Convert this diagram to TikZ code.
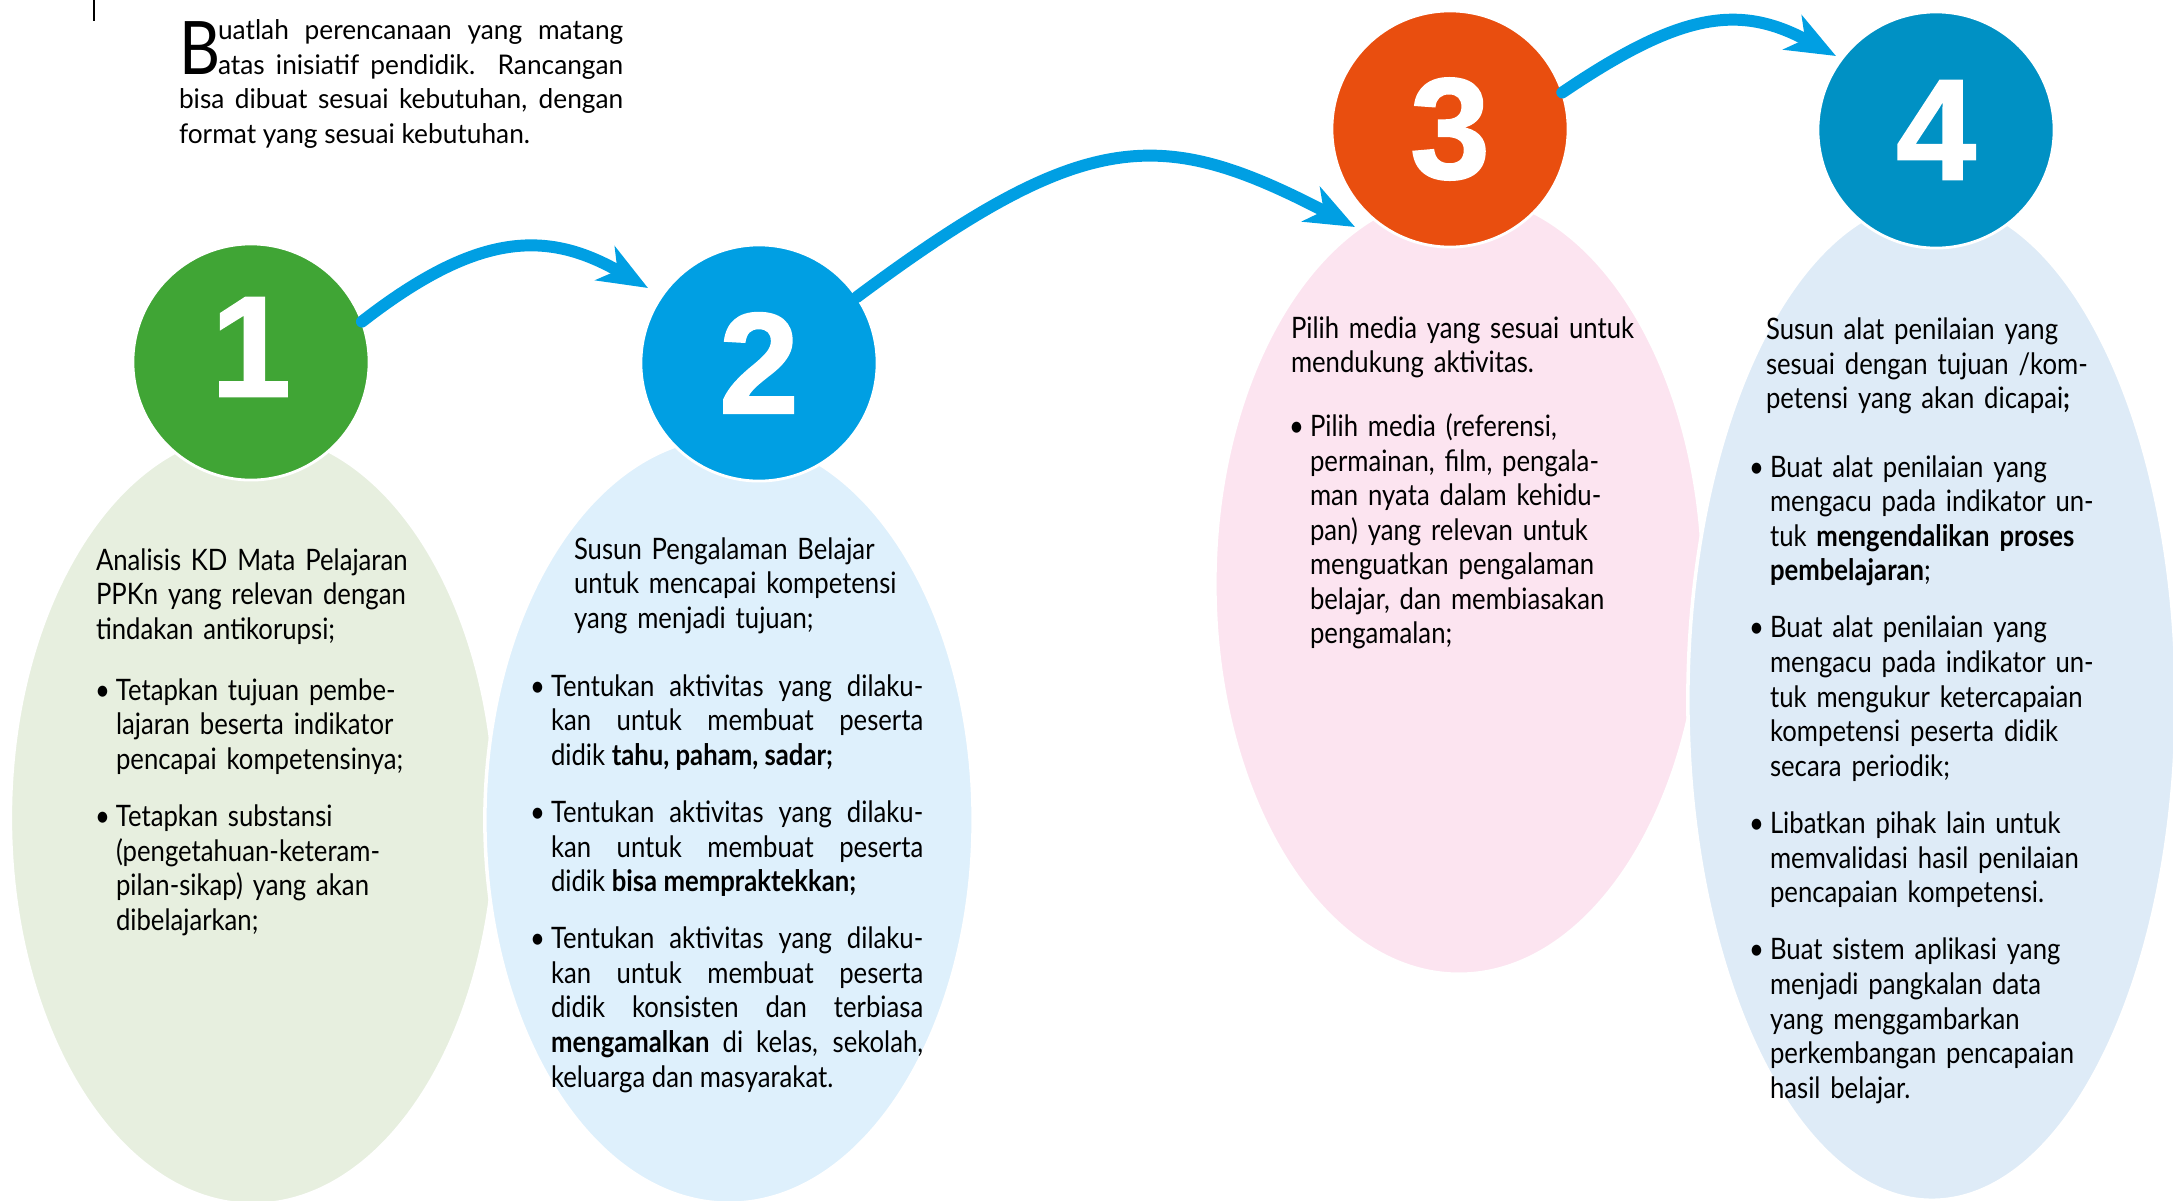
\documentclass[tikz,border=0pt]{standalone}
\usepackage{fontspec}
\usepackage{xcolor}
\usepackage{tikz}
\usetikzlibrary{arrows.meta, shapes.geometric}
\setmainfont[FakeStretch=0.87]{Lato}
\newfontfamily\pengantarfont[FakeStretch=0.97]{Lato}
\newfontfamily\hurufbesarfont[FakeStretch=0.86]{Lato}
\newfontfamily\angkafont[FakeBold=1.2]{Liberation Sans}
\hyphenpenalty=10000

\definecolor{hijau}{RGB}{64,165,53}
\definecolor{biru}{RGB}{0,159,227}
\definecolor{oranye}{RGB}{233,78,15}
\definecolor{birutua}{RGB}{0,145,196}
\definecolor{hijaumuda}{RGB}{231,239,223}
\definecolor{birumuda}{RGB}{222,240,252}
\definecolor{merahmuda}{RGB}{252,228,240}
\definecolor{birupucat}{RGB}{222,235,247}

\newlength{\indenbutir}
\setlength{\indenbutir}{0.21cm}
\newcommand{\butir}[1]{\hangindent=\indenbutir\hangafter=1\noindent\makebox[\indenbutir][l]{\textbullet}#1\par}
\newcommand{\jeda}{\vspace{6.5pt}}
\newcommand{\hurufawal}[1]{\hangindent=0.39cm\hangafter=-2\hspace*{-0.39cm}\makebox[0.39cm][l]{\smash{\raisebox{-9.82pt}{\hurufbesarfont\fontsize{21}{21}\selectfont #1}}}}

\tikzset{
  latar/.style={ellipse, draw=white, line width=1pt, inner sep=0pt},
  bulat/.style={circle, draw=white, line width=0.8pt, minimum size=2.36cm, inner sep=0pt, outer sep=0pt, text=white, font=\angkafont\bfseries\fontsize{41}{41}\selectfont},
  panah/.style={biru, line width=3.4pt, line cap=round, -{Stealth[length=14pt, width=11pt, inset=4pt]}},
  teks/.style={anchor=base west, inner sep=0pt, outer sep=0pt, align=left, text width=#1, font=\fontsize{8.4}{9.82}\selectfont},
  teksrata/.style={teks=#1, align=justify},
}

\begin{document}
\begin{tikzpicture}[x=0.01cm, y=-0.01cm]
\useasboundingbox (0,0) rectangle (2173,1200);
% latar elips
\node[latar, fill=hijaumuda, minimum width=4.85cm, minimum height=7.72cm] (e1) at (253,818) {};
\node[latar, fill=birumuda, minimum width=4.88cm, minimum height=7.66cm] (e2) at (729,820) {};
\node[latar, fill=merahmuda, minimum width=4.88cm, minimum height=7.8cm] (e3) at (1459,584) {};
\node[latar, fill=birupucat, minimum width=4.88cm, minimum height=10cm] (e4) at (1932,700) {};
% langkah
\node[bulat, fill=hijau] (n1) at (251,362) {\raisebox{0.3cm}{1}};
\node[bulat, fill=biru] (n2) at (759,363) {2};
\node[bulat, fill=oranye] (n3) at (1450,129) {3};
\node[bulat, fill=birutua] (n4) at (1936,130) {4};
% panah
\coordinate (ujung1) at (648,288);
\coordinate (ujung2) at (1355,227);
\coordinate (ujung3) at (1836,56);
\draw[panah] (n1.20) .. controls +(117,-91) and +(-100,-57.5) .. (ujung1);
\draw[panah] (n2.34) .. controls +(231,-172) and +(-193,-100) .. (ujung2);
\draw[panah] (n3.18) .. controls +(118,-80) and +(-97,-52.5) .. (ujung3);
\draw[line width=0.6pt] (94,0) -- (94,21);
% pengantar
\node[teksrata=4.44cm, font=\pengantarfont\fontsize{7.7}{9.82}\selectfont] (pengantar) at (179,39.5) {\hurufawal{B}uatlah perencanaan yang matang\linebreak atas inisiatif pendidik. Rancangan\linebreak bisa dibuat sesuai kebutuhan, dengan\linebreak format yang sesuai kebutuhan.\par};
% langkah 1
\node[teks=4.2cm] (p1) at (96,570) {Analisis KD Mata Pelajaran\\ PPKn yang relevan dengan\\ tindakan antikorupsi;};
\node[teks=4.2cm] (b1) at (95,700) {\butir{Tetapkan tujuan pembe-\newline lajaran beserta indikator\newline pencapai kompetensinya;}\jeda
\butir{Tetapkan substansi\newline (pengetahuan-keteram-\newline pilan-sikap) yang akan\newline dibelajarkan;}};
% langkah 2
\node[teks=4.2cm] (p2) at (574,559) {Susun Pengalaman Belajar\\ untuk mencapai kompetensi\\ yang menjadi tujuan;};
\node[teksrata=3.93cm] (b2) at (530,696) {\butir{Tentukan aktivitas yang dilaku-\linebreak kan untuk membuat peserta\linebreak didik \textbf{tahu, paham, sadar;}}\jeda
\butir{Tentukan aktivitas yang dilaku-\linebreak kan untuk membuat peserta\linebreak didik \textbf{bisa mempraktekkan;}}\jeda
\butir{Tentukan aktivitas yang dilaku-\linebreak kan untuk membuat peserta\linebreak didik konsisten dan terbiasa\linebreak \textbf{mengamalkan} di kelas, sekolah,\linebreak keluarga dan masyarakat.}};
% langkah 3
\node[teks=4.2cm] (p3) at (1291,338) {Pilih media yang sesuai untuk\\ mendukung aktivitas.};
\node[teks=4.2cm] (b3) at (1289,436.6) {\butir{Pilih media (referensi,\newline permainan, film, pengala-\newline man nyata dalam kehidu-\newline pan) yang relevan untuk\newline menguatkan pengalaman\newline belajar, dan membiasakan\newline pengamalan;}};
% langkah 4
\node[teks=4.2cm] (p4) at (1766,339.5) {Susun alat penilaian yang\\ sesuai dengan tujuan /kom-\\ petensi yang akan dicapai\textbf{;}};
\node[teks=4.2cm] (b4) at (1749,477) {\butir{Buat alat penilaian yang\newline mengacu pada indikator un-\newline tuk \textbf{mengendalikan proses}\newline \textbf{pembelajaran};}\jeda
\butir{Buat alat penilaian yang\newline mengacu pada indikator un-\newline tuk mengukur ketercapaian\newline kompetensi peserta didik\newline secara periodik;}\jeda
\butir{Libatkan pihak lain untuk\newline memvalidasi hasil penilaian\newline pencapaian kompetensi.}\jeda
\butir{Buat sistem aplikasi yang\newline menjadi pangkalan data\newline yang menggambarkan\newline perkembangan pencapaian\newline hasil belajar.}};
\end{tikzpicture}
\end{document}
